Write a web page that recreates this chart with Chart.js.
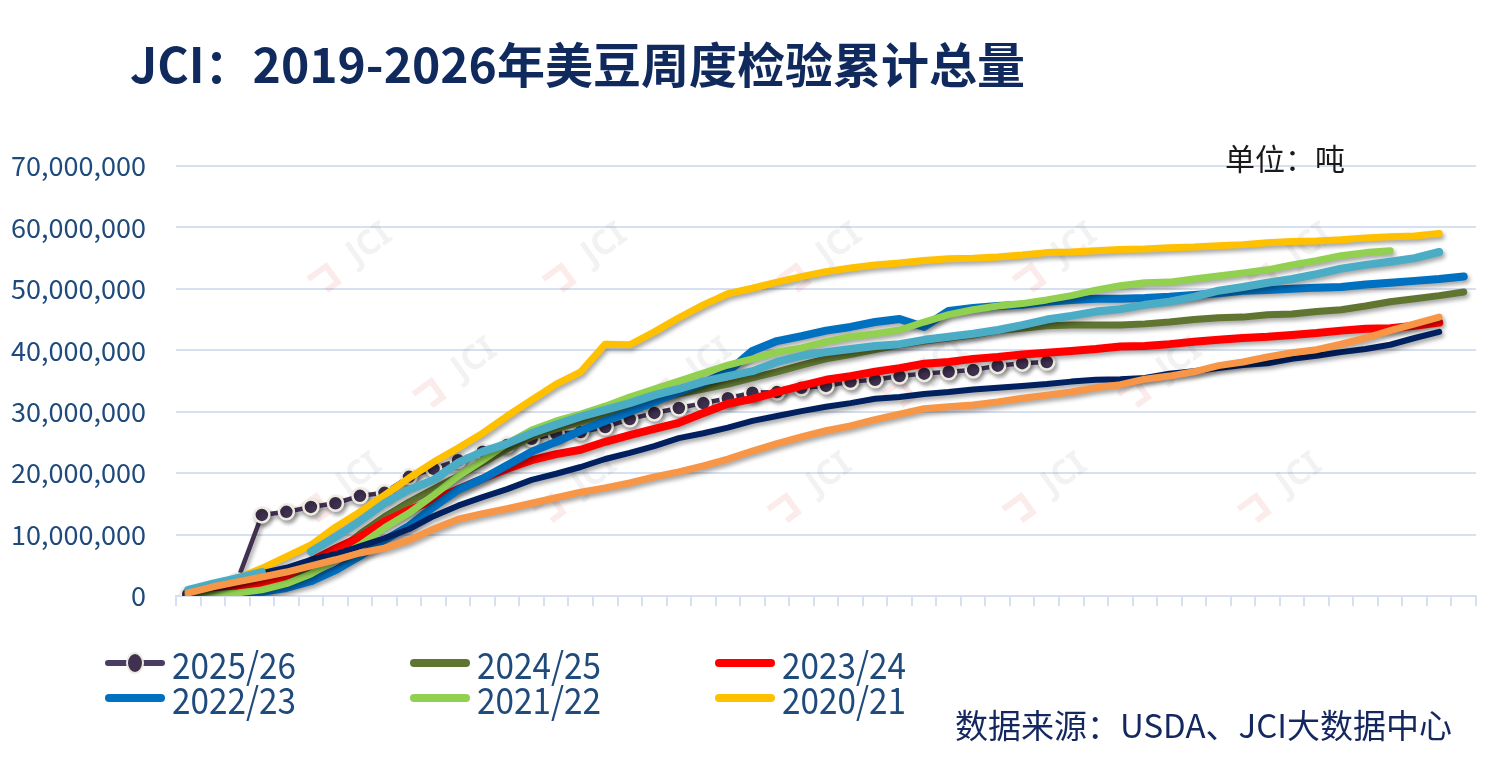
<!DOCTYPE html>
<html>
<head>
<meta charset="utf-8">
<script src="https://cdn.jsdelivr.net/npm/chart.js@4.4.1/dist/chart.umd.min.js"></script>
<style>
  html,body{margin:0;padding:0;background:#fff;}
  #wrap{position:relative;width:1496px;height:758px;background:#fff;overflow:hidden;}
  #c{position:absolute;left:0;top:0;display:block;}
  .txt{position:absolute;white-space:nowrap;font-family:"Noto Sans CJK SC","Noto Sans",sans-serif;line-height:1;}
  #title{left:130px;top:38px;font-size:48px;font-weight:700;color:#102A5E;}
  #unit{left:1225px;top:142px;font-size:30px;color:#1a1a1a;}
  #source{left:955px;top:708px;font-size:33px;color:#14285F;}
  .leg{position:absolute;height:40px;display:flex;align-items:center;}
  .leg .mk{position:relative;width:60px;height:40px;margin-right:7px;flex:none;}
  .leg .ln{position:absolute;left:0;top:16px;width:60px;height:8px;border-radius:4px;}
  .leg .dot{position:absolute;left:21px;top:9px;width:18px;height:22px;border-radius:50%;box-sizing:border-box;border:2.5px solid #EEECE1;}
  .leg .lb{font-family:"Noto Sans CJK SC","Noto Sans",sans-serif;font-size:37px;line-height:40px;color:#1F4A7C;transform:scaleX(0.9);transform-origin:left center;}
</style>
</head>
<body>
<div id="wrap">
  <canvas id="c" width="1496" height="758"></canvas>
  <div id="title" class="txt">JCI：2019-2026年美豆周度检验累计总量</div>
  <div id="unit" class="txt">单位：吨</div>
  <div id="source" class="txt">数据来源：USDA、JCI大数据中心</div>
  <div id="legend"></div>
</div>
<script>
// ---- data (million tonnes, cumulative weekly inspections) ----
const weeks = Array.from({length: 53}, (_, i) => '第' + (i + 1) + '周');

const y2025_26 = [0.3,0.5,2.5,13.2,13.7,14.5,15.1,16.3,16.8,19.4,20.7,22.1,23.5,24.6,25.6,26.4,26.7,27.5,28.8,29.8,30.6,31.4,32.2,33.1,33.2,33.9,34.2,34.9,35.2,35.8,36.2,36.5,36.8,37.5,37.9,38.1];
const y2024_25 = [0.2,0.3,0.7,1.3,2.3,4.2,7.0,10.1,12.9,15.3,17.4,19.5,21.7,23.9,25.9,27.2,28.3,29.5,30.6,31.8,32.9,33.7,34.5,35.5,36.5,37.6,38.6,39.3,40.1,40.9,41.5,42.0,42.5,43.2,43.6,44.0,44.1,44.1,44.1,44.3,44.6,45.0,45.3,45.4,45.8,45.9,46.3,46.6,47.2,47.9,48.4,48.9,49.5];
const y2023_24 = [0.2,0.7,1.1,2.0,3.3,5.7,7.7,9.6,12.1,14.0,15.6,17.4,19.1,20.7,22.1,23.1,23.8,25.1,26.2,27.2,28.2,29.8,31.3,32.1,33.2,34.2,35.2,35.8,36.5,37.1,37.8,38.1,38.6,38.9,39.3,39.6,39.9,40.2,40.6,40.7,41.0,41.4,41.7,42.0,42.2,42.5,42.8,43.2,43.5,43.6,44.0,44.5];
const y2022_23 = [0.2,0.2,0.3,0.7,1.3,2.4,4.2,6.5,9.1,11.4,14.5,17.3,19.1,21.3,23.5,25.1,26.9,28.5,30.0,31.6,33.2,34.7,36.5,39.9,41.5,42.3,43.2,43.8,44.6,45.1,43.8,46.4,46.9,47.2,47.4,47.9,48.2,48.4,48.4,48.5,48.7,49.0,49.3,49.7,49.8,50.0,50.2,50.3,50.7,51.0,51.3,51.6,52.0];
const y2021_22 = [0.2,0.2,0.5,1.0,2.0,3.6,5.9,8.3,11.1,13.5,16.4,19.5,22.1,24.8,27.0,28.5,29.6,30.9,32.4,33.7,35.0,36.3,37.6,38.6,39.7,40.4,41.4,42.2,42.7,43.3,44.6,45.8,46.6,47.2,47.6,48.2,48.9,49.8,50.5,51.0,51.1,51.6,52.1,52.6,53.1,53.9,54.6,55.4,55.9,56.2];
const y2020_21 = [0.6,1.5,2.9,4.5,6.4,8.3,11.2,13.7,16.4,19.2,21.8,24.1,26.5,29.3,31.9,34.5,36.5,41.0,40.9,43.0,45.3,47.4,49.2,50.1,51.1,52.0,52.8,53.4,53.9,54.2,54.6,54.9,55.0,55.2,55.5,55.9,56.0,56.2,56.4,56.5,56.7,56.8,57.0,57.2,57.5,57.7,57.8,58.0,58.3,58.5,58.6,59.0];
const y2019_20 = [0.5,1.5,2.6,3.7,4.6,5.9,6.8,8.1,9.4,10.9,13.0,14.7,16.1,17.4,18.9,19.9,21.0,22.3,23.3,24.4,25.7,26.5,27.4,28.5,29.3,30.1,30.8,31.4,32.1,32.4,32.9,33.2,33.6,33.9,34.2,34.5,34.9,35.2,35.3,35.5,36.2,36.6,37.1,37.6,37.9,38.6,39.1,39.7,40.2,40.9,42.0,43.0];
const y2018_19 = [1.0,2.0,2.9,3.9,null,7.2,9.6,12.2,15.1,17.3,18.9,21.7,23.5,24.8,26.5,27.9,29.2,30.3,31.4,32.7,33.7,34.9,35.8,36.6,38.1,39.1,39.7,40.2,40.7,41.0,41.7,42.2,42.7,43.3,44.1,45.0,45.6,46.3,46.7,47.4,47.9,48.7,49.7,50.3,51.0,51.6,52.4,53.3,53.9,54.4,55.0,56.0];
const y2017_18 = [0.5,1.5,2.3,3.1,3.9,4.9,5.9,7.0,7.8,9.1,10.9,12.5,13.4,14.2,15.1,16.0,16.9,17.6,18.4,19.4,20.2,21.2,22.3,23.6,24.8,25.9,26.9,27.7,28.7,29.6,30.5,30.8,31.1,31.6,32.2,32.7,33.2,33.9,34.4,35.3,35.8,36.5,37.5,38.1,38.9,39.6,40.1,41.0,42.0,43.2,44.3,45.4];

const yTicks = [0,10000000,20000000,30000000,40000000,50000000,60000000,70000000];
const seriesNames = ['2025/26','2024/25','2023/24','2022/23','2021/22','2020/21','2019/20','2018/19','2017/18'];
const seriesData  = [y2025_26,y2024_25,y2023_24,y2022_23,y2021_22,y2020_21,y2019_20,y2018_19,y2017_18];
const legendCount = 6;

// ---- styles ----
const colors = ['#403151','#5F7530','#FF0000','#0070C0','#92D050','#FFC000','#002060','#4BACC6','#F79646'];
const widths = [4.5,7,8,8,7,7,6,8,7];

const toT = a => a.map(v => v == null ? null : Math.round(v * 1e6));

const datasets = seriesNames.map((name, k) => {
  const ds = {
    label: name,
    data: toT(seriesData[k]),
    borderColor: colors[k],
    backgroundColor: colors[k],
    borderWidth: widths[k],
    borderCapStyle: 'round',
    borderJoinStyle: 'round',
    pointRadius: 0,
    pointHoverRadius: 0,
    tension: 0,
    spanGaps: false,
    fill: false,
    order: seriesNames.length - 1 - k
  };
  if (k === 0) {
    ds.pointRadius = 7.5;
    ds.pointBackgroundColor = colors[0];
    ds.pointBorderColor = '#EEECE1';
    ds.pointBorderWidth = 2.5;
  }
  return ds;
});

const shadowPlugin = {
  id: 'shadow',
  beforeDatasetDraw(chart) {
    const ctx = chart.ctx;
    ctx.save();
    ctx.shadowColor = 'rgba(0,0,0,0.35)';
    ctx.shadowBlur = 4;
    ctx.shadowOffsetX = 2;
    ctx.shadowOffsetY = 3;
  },
  afterDatasetDraw(chart) { chart.ctx.restore(); }
};

const watermarkPlugin = {
  id: 'wm',
  beforeDatasetsDraw(chart) {
    const ctx = chart.ctx;
    const spots = [[355,255],[590,255],[825,255],[1060,255],[1295,255],
                   [460,370],[695,370],[930,370],[1165,370],
                   [345,485],[580,485],[815,485],[1050,485],[1285,485]];
    ctx.save();
    spots.forEach(([x,y]) => {
      ctx.save();
      ctx.translate(x, y);
      ctx.rotate(-Math.PI / 5);
      ctx.font = 'bold 34px "Noto Sans", sans-serif';
      ctx.fillStyle = 'rgba(150,150,150,0.12)';
      ctx.textAlign = 'center';
      ctx.textBaseline = 'middle';
      ctx.fillText('JCI', 18, 0);
      ctx.strokeStyle = 'rgba(230,60,60,0.10)';
      ctx.lineWidth = 6;
      ctx.beginPath();
      ctx.moveTo(-52, -8); ctx.lineTo(-30, -8); ctx.lineTo(-30, 12); ctx.lineTo(-44, 12);
      ctx.stroke();
      ctx.restore();
    });
    ctx.restore();
  }
};

const gridColor = '#D7E0F0';

new Chart(document.getElementById('c'), {
  type: 'line',
  data: { labels: weeks, datasets },
  plugins: [watermarkPlugin, shadowPlugin],
  options: {
    responsive: false,
    animation: false,
    layout: { padding: { left: 0, top: 166, right: 20, bottom: 150 } },
    plugins: { legend: { display: false }, tooltip: { enabled: false }, title: { display: false } },
    scales: {
      x: {
        type: 'category',
        offset: true,
        afterFit(s) { s.height = 12; },
        grid: { offset: true, drawOnChartArea: false, drawTicks: true, tickLength: 10, color: gridColor, lineWidth: 2 },
        border: { display: true, color: gridColor, width: 2 },
        ticks: { display: false }
      },
      y: {
        min: 0, max: 70000000,
        afterFit(s) { s.width = 176; },
        afterBuildTicks(s) { s.ticks = yTicks.map(v => ({ value: v })); },
        grid: { drawTicks: false, color: gridColor, lineWidth: 2 },
        border: { display: false },
        ticks: {
          padding: 30,
          color: '#1F4A7C',
          font: { family: '"Noto Sans CJK SC", "Noto Sans", sans-serif', size: 27 },
          callback: v => Number(v).toLocaleString('en-US')
        }
      }
    }
  }
});

// ---- HTML legend (first six series) ----
const legPos = [[105,643],[410,643],[715,643],[105,678],[410,678],[715,678]];
const legend = document.getElementById('legend');
for (let k = 0; k < legendCount; k++) {
  const it = document.createElement('div');
  it.className = 'leg';
  it.style.left = legPos[k][0] + 'px';
  it.style.top = legPos[k][1] + 'px';
  const mk = document.createElement('div');
  mk.className = 'mk';
  const ln = document.createElement('div');
  ln.className = 'ln';
  ln.style.background = colors[k];
  if (k === 0) { ln.style.height = '6px'; ln.style.top = '17px'; ln.style.background = '#4A3D63'; }
  mk.appendChild(ln);
  if (k === 0) {
    const d = document.createElement('div');
    d.className = 'dot';
    d.style.background = colors[0];
    mk.appendChild(d);
  }
  const lb = document.createElement('div');
  lb.className = 'lb';
  lb.textContent = seriesNames[k];
  it.appendChild(mk);
  it.appendChild(lb);
  legend.appendChild(it);
}
</script>
</body>
</html>
